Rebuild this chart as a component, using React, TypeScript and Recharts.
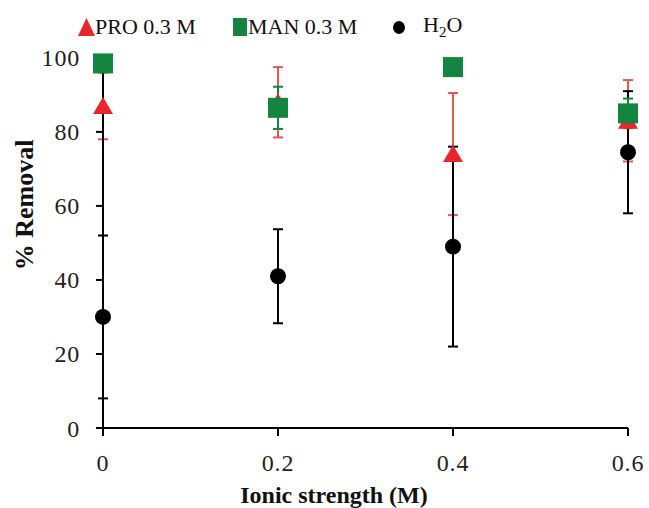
import { ScatterChart, Scatter, XAxis, YAxis, ErrorBar } from 'recharts';

const ionic = [0, 0.2, 0.4, 0.6];
const proValues = [87, 88, 74, 83];
const proErrors = [9, 9.5, 16.5, 11];
const manValues = [98.5, 86.5, 97.5, 85];
const manErrors = [2, 5.7, 1.5, 4];
const h2oValues = [30, 41, 49, 74.5];
const h2oErrors = [22, 12.7, 27, 16.5];
const xTicks = [0, 0.2, 0.4, 0.6];
const yTicks = [0, 20, 40, 60, 80, 100];

const toPoints = (vals: number[], errs: number[]) =>
  ionic.map((x, i) => ({ x, y: vals[i], err: errs[i] }));

const FONT = '"Liberation Serif", "Times New Roman", serif';

const series = [
  { name: 'PRO 0.3 M', data: toPoints(proValues, proErrors), color: '#e8262b', bar: '#e05858', shape: 'triangle' },
  { name: 'MAN 0.3 M', data: toPoints(manValues, manErrors), color: '#138540', bar: '#138540', shape: 'square' },
  { name: 'H2O', data: toPoints(h2oValues, h2oErrors), color: '#000000', bar: '#000000', shape: 'circle' },
];

// marker drawn at the scaled point
function marker(kind: string, color: string) {
  return (props: any) => {
    const { cx, cy } = props;
    if (cx == null || cy == null) return <g />;
    if (kind === 'triangle')
      return <polygon points={`${cx},${cy - 9} ${cx + 10},${cy + 8} ${cx - 10},${cy + 8}`} fill={color} />;
    if (kind === 'square') return <rect x={cx - 10} y={cy - 10} width={20} height={20} fill={color} />;
    return <circle cx={cx} cy={cy} r={8} fill={color} />;
  };
}

function LegendMark({ shape, color }: { shape: string; color: string }) {
  if (shape === 'triangle')
    return (
      <svg width="17" height="18" style={{ display: 'block' }}>
        <polygon points="8.5,0 17,18 0,18" fill={color} />
      </svg>
    );
  if (shape === 'square')
    return (
      <svg width="14" height="18" style={{ display: 'block' }}>
        <rect x="0" y="0" width="14" height="18" fill={color} />
      </svg>
    );
  return (
    <svg width="12" height="13" style={{ display: 'block' }}>
      <ellipse cx="6" cy="6.5" rx="6" ry="6.5" fill={color} />
    </svg>
  );
}

const legendLeft = [78, 233, 393];
const textGap = [0, 1, 18];

export default function App() {
  // PRO underneath, then H2O, MAN on top
  const drawOrder = [series[0], series[2], series[1]];
  return (
    <div style={{ position: 'absolute', left: 0, top: 0, width: 649, height: 508, background: '#fff', fontFamily: FONT, overflow: 'hidden' }}>
      {series.map((s, i) => (
        <div
          key={s.name}
          style={{ position: 'absolute', top: 12, left: legendLeft[i], height: 30, display: 'flex', alignItems: 'center', fontSize: 22, color: '#111' }}
        >
          <LegendMark shape={s.shape} color={s.color} />
          <span style={{ marginLeft: textGap[i] }}>
            {s.name === 'H2O' ? (
              <>
                H<sub style={{ fontSize: 15 }}>2</sub>O
              </>
            ) : (
              s.name
            )}
          </span>
        </div>
      ))}
      <ScatterChart width={649} height={508} margin={{ top: 56, right: 21, bottom: 0, left: 0 }}>
        <XAxis
          type="number"
          dataKey="x"
          domain={[0, 0.6]}
          ticks={xTicks}
          height={80}
          tickSize={8}
          tickMargin={18}
          axisLine={{ stroke: '#000', strokeWidth: 2 }}
          tickLine={{ stroke: '#000', strokeWidth: 2 }}
          tick={{ fill: '#222', fontSize: 24, fontFamily: FONT, letterSpacing: 0.8 }}
          label={{
            content: () => (
              <text x={334} y={503} textAnchor="middle" fill="#111" fontSize={24} fontWeight="bold" fontFamily={FONT}>
                Ionic strength (M)
              </text>
            ),
          }}
        />
        <YAxis
          type="number"
          dataKey="y"
          domain={[0, 100]}
          ticks={yTicks}
          width={103}
          tickSize={7}
          tickMargin={16}
          axisLine={{ stroke: '#000', strokeWidth: 2 }}
          tickLine={{ stroke: '#000', strokeWidth: 2 }}
          tick={{ fill: '#222', fontSize: 24, fontFamily: FONT, letterSpacing: 0.8 }}
          label={{
            content: () => (
              <text
                x={0}
                y={0}
                transform="translate(33,205) rotate(-90)"
                textAnchor="middle"
                fill="#111"
                fontSize={26}
                fontWeight="bold"
                fontFamily={FONT}
              >
                % Removal
              </text>
            ),
          }}
        />
        {drawOrder.map((s) => (
          <Scatter key={s.name} name={s.name} data={s.data} fill={s.color} shape={marker(s.shape, s.color)} isAnimationActive={false}>
            <ErrorBar dataKey="err" direction="y" width={5} stroke={s.bar} strokeWidth={2} />
          </Scatter>
        ))}
      </ScatterChart>
    </div>
  );
}
